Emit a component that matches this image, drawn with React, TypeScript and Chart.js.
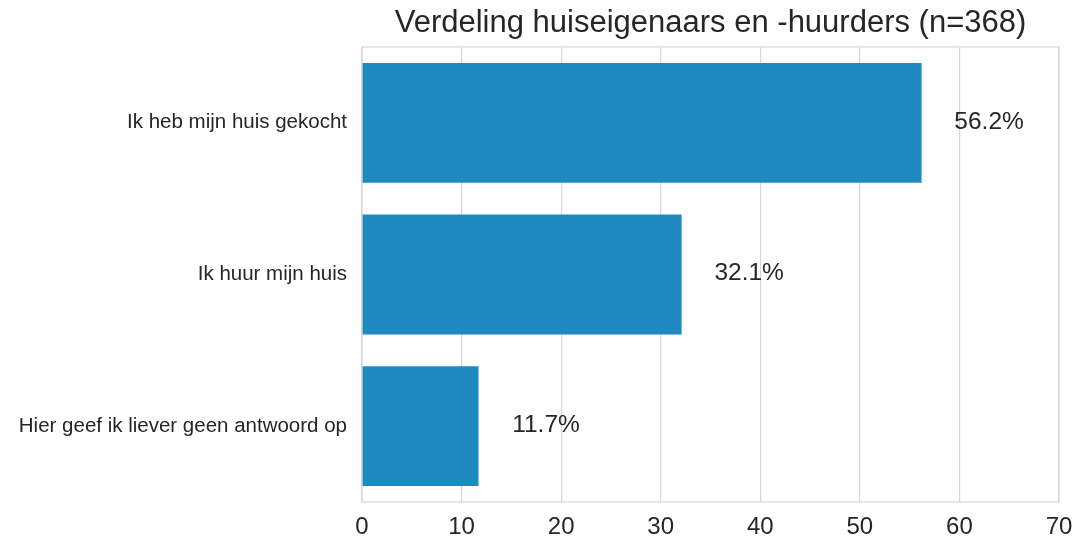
import React, { useEffect, useRef } from "react";
import { Chart, registerables } from "chart.js";

Chart.register(...registerables);

const categories = [
  "Ik heb mijn huis gekocht",
  "Ik huur mijn huis",
  "Hier geef ik liever geen antwoord op",
];
const values = [56.2, 32.1, 11.7];
const labelsText = ["56.2%", "32.1%", "11.7%"];
const xTicks = [0, 10, 20, 30, 40, 50, 60, 70];
const title = "Verdeling huiseigenaars en -huurders (n=368)";

const FONT = "'Liberation Sans', Arial, Helvetica, sans-serif";
const GRID = "#d6d6d6";
const TEXT = "#262626";

export default function App() {
  const ref = useRef<HTMLCanvasElement>(null);
  useEffect(() => {
    document.body.style.margin = "0";
    const canvas = ref.current!;
    const decor = {
      id: "decor",
      beforeDatasetsDraw(chart: any) {
        const { ctx, chartArea } = chart;
        ctx.save();
        ctx.strokeStyle = GRID;
        ctx.lineWidth = 1.2;
        ctx.strokeRect(chartArea.left, chartArea.top, chartArea.right - chartArea.left, chartArea.bottom - chartArea.top);
        ctx.restore();
      },
      afterDraw(chart: any) {
        const { ctx, chartArea, scales } = chart;
        ctx.save();
        ctx.fillStyle = TEXT;
        ctx.font = `31px ${FONT}`;
        ctx.textAlign = "center";
        ctx.textBaseline = "middle";
        ctx.fillText(title, (chartArea.left + chartArea.right) / 2, 23);
        ctx.font = `24.5px ${FONT}`;
        values.forEach((v, i) => {
          const x = scales.x.getPixelForValue(v) + 67.5;
          const y = scales.y.getPixelForValue(i) - 1;
          ctx.fillText(labelsText[i], x, y);
        });
        ctx.restore();
      },
    };
    const chart = new Chart(canvas, {
      type: "bar",
      data: {
        labels: categories,
        datasets: [
          {
            data: values,
            backgroundColor: "#1f8ac0",
            barPercentage: 0.79,
            categoryPercentage: 1,
          },
        ],
      },
      options: {
        indexAxis: "y",
        responsive: false,
        animation: false,
        layout: { padding: { top: 47, right: 15, left: 0, bottom: 0 } },
        plugins: { legend: { display: false }, tooltip: { enabled: false } },
        scales: {
          x: {
            min: 0,
            max: 70,
            afterFit: (s: any) => {
              s.height = 35;
              s.paddingLeft = 0;
              s.paddingRight = 0;
            },
            afterBuildTicks: (s: any) => {
              s.ticks = xTicks.map((v) => ({ value: v }));
            },
            grid: { color: GRID, lineWidth: 1.2, drawTicks: false },
            border: { display: false },
            ticks: { color: TEXT, font: { family: FONT, size: 24 }, padding: 11 },
          },
          y: {
            afterFit: (s: any) => {
              s.width = 362;
              s.paddingTop = 0;
              s.paddingBottom = 0;
            },
            grid: { display: false, drawTicks: false },
            border: { display: false },
            ticks: { color: TEXT, font: { family: FONT, size: 20.5 }, padding: 15 },
          },
        },
      },
      plugins: [decor],
    });
    return () => chart.destroy();
  }, []);
  return (
    <div style={{ width: 1074, height: 537 }}>
      <canvas ref={ref} width={1074} height={537} />
    </div>
  );
}
